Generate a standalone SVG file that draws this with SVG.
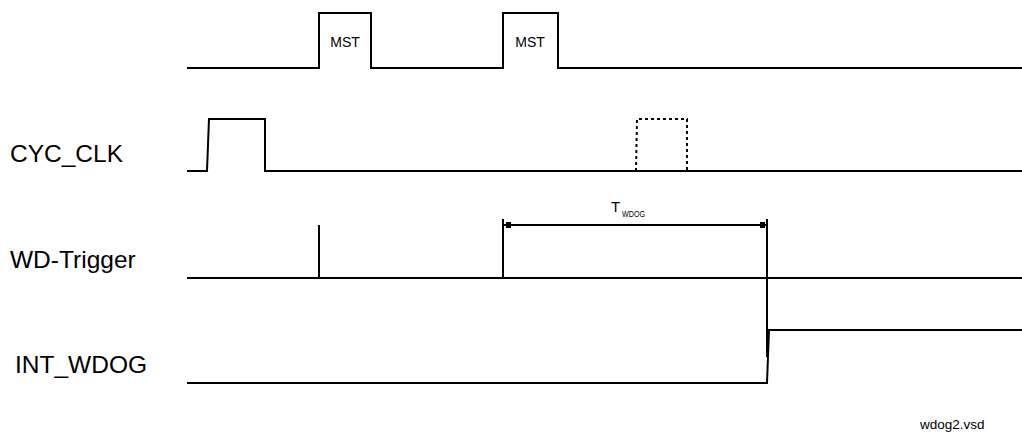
<svg xmlns="http://www.w3.org/2000/svg" width="1022" height="432" viewBox="0 0 1022 432">
<style>
.sig{fill:none;stroke:#000;stroke-width:2;stroke-linejoin:miter}
.dot{fill:none;stroke:#000;stroke-width:2;stroke-dasharray:3,3}
.lbl{font-family:"Liberation Sans",Arial,sans-serif;font-size:24.5px;fill:#000}
.sm{font-family:"Liberation Sans",Arial,sans-serif;fill:#000}
</style>
<rect width="1022" height="432" fill="#fff"/>
<g id="mst-line">
<path class="sig" d="M187 68 H319 V13 H371 V68 H503 V13 H558 V68 H1022"/>
<text class="sm" x="345" y="47" font-size="14" text-anchor="middle">MST</text>
<text class="sm" x="530" y="47" font-size="14" text-anchor="middle">MST</text>
</g>
<g id="cyc-clk">
<text class="lbl" x="10" y="162">CYC_CLK</text>
<path class="sig" d="M187 171 H207 L209 119 H265 V171 H1022"/>
<path class="dot" d="M636 171 L637 119 H687 V171"/>
</g>
<g id="wd-trigger">
<text class="lbl" x="10" y="268">WD-Trigger</text>
<path class="sig" d="M187 278 H1022"/>
<path class="sig" d="M319 225 V278"/>
<path class="sig" d="M503 219 V278"/>
</g>
<g id="int-wdog">
<text class="lbl" x="15" y="373">INT_WDOG</text>
<path class="sig" d="M187 383 H767 L769 330 H1022"/>
</g>
<g id="connectors">
<path class="sig" d="M767 219 V357"/>
<path class="sig" d="M503 225 H767"/>
<rect x="506" y="222" width="5" height="6" fill="#000"/>
<rect x="760" y="222" width="5" height="6" fill="#000"/>
<text class="sm" x="611" y="212" font-size="15">T</text>
<text class="sm" x="622" y="217" font-size="8.5" textLength="23" lengthAdjust="spacingAndGlyphs">WDOG</text>
</g>
<text class="sm" x="920" y="429" font-size="13.5">wdog2.vsd</text>
</svg>
